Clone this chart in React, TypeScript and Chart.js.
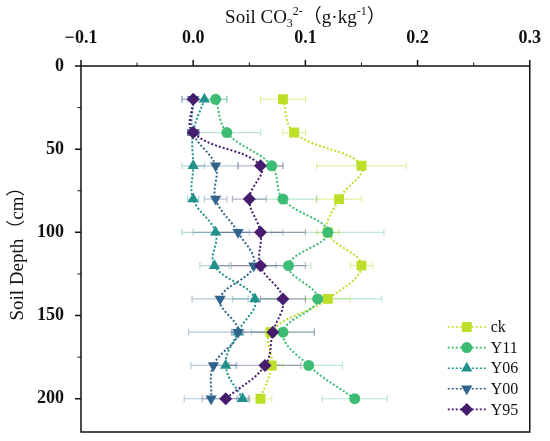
import { useEffect, useRef } from "react";
import { Chart, registerables } from "chart.js";
import { drawPoint } from "chart.js/helpers";

Chart.register(...registerables);

// soil depth of each sample (cm)
const depths = [20, 40, 60, 80, 100, 120, 140, 160, 180, 200];

// CO3 2- content (g/kg) and half-width of the error bars
const ckValues = [0.08, 0.09, 0.15, 0.13, 0.12, 0.15, 0.12, 0.069, 0.07, 0.06];
const ckErrors = [0.02, 0.01, 0.04, 0.02, 0.01, 0.01, 0.02, 0.005, 0.01, 0.01];
const y11Values = [0.02, 0.03, 0.07, 0.08, 0.12, 0.085, 0.111, 0.08, 0.103, 0.144];
const y11Errors = [0.01, 0.03, 0.01, 0.03, 0.05, 0.02, 0.057, 0.028, 0.03, 0.029];
const y06Values = [0.01, 0.0, 0.0, 0.0, 0.02, 0.019, 0.055, 0.04, 0.029, 0.044];
const y06Errors = [0.02, 0.005, 0.01, 0.005, 0.03, 0.013, 0.02, 0.005, 0.01, 0.005];
const y00Values = [0.0, 0.0, 0.02, 0.02, 0.04, 0.054, 0.024, 0.04, 0.018, 0.016];
const y00Errors = [0.005, 0.005, 0.02, 0.01, 0.04, 0.02, 0.025, 0.044, 0.02, 0.024];
const y95Values = [0.0, 0.0, 0.06, 0.05, 0.06, 0.06, 0.08, 0.071, 0.064, 0.029];
const y95Errors = [0.01, 0.005, 0.02, 0.015, 0.04, 0.04, 0.02, 0.037, 0.032, 0.021];

const seriesNames = ["ck", "Y11", "Y06", "Y00", "Y95"];
const seriesValues = [ckValues, y11Values, y06Values, y00Values, y95Values];
const seriesErrors = [ckErrors, y11Errors, y06Errors, y00Errors, y95Errors];
const seriesColors = ["#bcdf27", "#3dbc74", "#21918c", "#31648d", "#461c6f"];
const errorColors = [
  "rgba(188,223,39,0.45)",
  "rgba(61,188,116,0.35)",
  "rgba(33,145,140,0.35)",
  "rgba(49,100,141,0.35)",
  "rgba(70,28,111,0.35)",
];
const pointStyles = ["rect", "circle", "triangle", "triangle", "rectRot"];
const pointRotations = [0, 0, 0, 180, 0];
const pointSizes = [7, 5.5, 6.5, 6.5, 6.5];

const xTicks = [-0.1, 0, 0.1, 0.2, 0.3];
const xTickLabels = ["\u22120.1", "0.0", "0.1", "0.2", "0.3"];
const xMinorTicks = [-0.05, 0.05, 0.15, 0.25];
const yTicks = [0, 50, 100, 150, 200];
const yMinorTicks = [25, 75, 125, 175];

const SERIF = '"Liberation Serif", "Times New Roman", "Noto Sans CJK SC", serif';

const decorPlugin = {
  id: "decor",
  beforeDatasetsDraw(chart: any) {
    const { ctx, scales } = chart;
    const xs = scales.x;
    const ys = scales.y;
    ctx.save();
    ctx.lineWidth = 1.2;
    chart.data.datasets.forEach((ds: any) => {
      ctx.strokeStyle = ds.errorColor;
      ds.data.forEach((p: any, j: number) => {
        const e = ds.errors[j];
        const x0 = xs.getPixelForValue(p.x - e);
        const x1 = xs.getPixelForValue(p.x + e);
        const py = ys.getPixelForValue(p.y);
        ctx.beginPath();
        ctx.moveTo(x0, py);
        ctx.lineTo(x1, py);
        ctx.moveTo(x0, py - 3.5);
        ctx.lineTo(x0, py + 3.5);
        ctx.moveTo(x1, py - 3.5);
        ctx.lineTo(x1, py + 3.5);
        ctx.stroke();
      });
    });
    ctx.restore();
  },
  afterDraw(chart: any) {
    const { ctx, chartArea, scales } = chart;
    const { left, right, top, bottom } = chartArea;
    const xs = scales.x;
    const ys = scales.y;
    ctx.save();

    // frame
    ctx.strokeStyle = "#111";
    ctx.lineWidth = 1.5;
    ctx.strokeRect(left, top, right - left, bottom - top);

    // tick marks
    ctx.beginPath();
    xTicks.forEach((v) => {
      const px = xs.getPixelForValue(v);
      ctx.moveTo(px, top);
      ctx.lineTo(px, top - 6);
    });
    yTicks.forEach((v) => {
      const py = ys.getPixelForValue(v);
      ctx.moveTo(left, py);
      ctx.lineTo(left - 6, py);
    });
    ctx.stroke();
    ctx.lineWidth = 1;
    ctx.beginPath();
    xMinorTicks.forEach((v) => {
      const px = xs.getPixelForValue(v);
      ctx.moveTo(px, top);
      ctx.lineTo(px, top - 3.5);
    });
    yMinorTicks.forEach((v) => {
      const py = ys.getPixelForValue(v);
      ctx.moveTo(left, py);
      ctx.lineTo(left - 3.5, py);
    });
    ctx.stroke();

    // x title with sub/superscripts
    ctx.fillStyle = "#111";
    ctx.textBaseline = "alphabetic";
    ctx.textAlign = "left";
    const parts = [
      { t: "Soil CO", s: 19, dy: 0 },
      { t: "3", s: 12, dy: 4 },
      { t: "2-", s: 12, dy: -8 },
      { t: "\uff08g\u00b7kg", s: 19, dy: 0 },
      { t: "-1", s: 12, dy: -8 },
      { t: "\uff09", s: 19, dy: 0 },
    ];
    let total = 0;
    parts.forEach((p) => {
      ctx.font = `${p.s}px ${SERIF}`;
      total += ctx.measureText(p.t).width;
    });
    let cx = (left + right) / 2 - total / 2;
    const baseY = 23;
    parts.forEach((p) => {
      ctx.font = `${p.s}px ${SERIF}`;
      ctx.fillText(p.t, cx, baseY + p.dy);
      cx += ctx.measureText(p.t).width;
    });

    // y title
    ctx.save();
    ctx.translate(18, (top + bottom) / 2);
    ctx.rotate(-Math.PI / 2);
    ctx.textAlign = "center";
    ctx.textBaseline = "middle";
    ctx.font = `19px ${SERIF}`;
    ctx.fillText("Soil Depth\uff08cm\uff09", 0, 0);
    ctx.restore();

    // legend
    const lx = right - 82;
    const ly = bottom - 105;
    chart.data.datasets.forEach((ds: any, i: number) => {
      const y = ly + i * 20.6;
      ctx.strokeStyle = ds.borderColor;
      ctx.lineWidth = 1.6;
      ctx.setLineDash([2, 2]);
      ctx.beginPath();
      ctx.moveTo(lx, y);
      ctx.lineTo(lx + 39, y);
      ctx.stroke();
      ctx.setLineDash([]);
      ctx.fillStyle = ds.backgroundColor;
      drawPoint(
        ctx,
        { pointStyle: ds.pointStyle, radius: ds.pointRadius, rotation: ds.pointRotation, borderWidth: 0 },
        lx + 19,
        y
      );
      ctx.fillStyle = "#111";
      ctx.font = `16px ${SERIF}`;
      ctx.textAlign = "left";
      ctx.textBaseline = "middle";
      ctx.fillText(ds.label, lx + 43, y + 1);
    });

    ctx.restore();
  },
};

export default function App() {
  const canvasRef = useRef<HTMLCanvasElement>(null);
  const chartRef = useRef<Chart | null>(null);

  useEffect(() => {
    if (!canvasRef.current) return;
    if (chartRef.current) chartRef.current.destroy();

    const datasets = seriesNames.map((name, i) => ({
      label: name,
      data: depths.map((d, j) => ({ x: seriesValues[i][j], y: d })),
      errors: seriesErrors[i],
      errorColor: errorColors[i],
      showLine: true,
      borderColor: seriesColors[i],
      backgroundColor: seriesColors[i],
      borderWidth: 2,
      borderDash: [2, 2],
      tension: 0.4,
      pointStyle: pointStyles[i],
      pointRotation: pointRotations[i],
      pointRadius: pointSizes[i],
      pointBorderWidth: 0,
      order: seriesNames.length - i,
    }));

    chartRef.current = new Chart(canvasRef.current, {
      type: "scatter",
      data: { datasets } as any,
      options: {
        animation: false,
        responsive: true,
        maintainAspectRatio: false,
        layout: { padding: { top: 0, right: 14, bottom: 9, left: 0 } },
        plugins: {
          legend: { display: false },
          tooltip: { enabled: false },
        },
        scales: {
          x: {
            type: "linear",
            position: "top",
            min: -0.1,
            max: 0.3,
            afterBuildTicks: (s: any) => {
              s.ticks = xTicks.map((v) => ({ value: v }));
            },
            afterFit: (s: any) => {
              s.height = 66;
            },
            grid: { display: false },
            border: { display: false },
            ticks: {
              autoSkip: false,
              maxRotation: 0,
              padding: 9,
              color: "#111",
              font: { family: SERIF, size: 18, weight: "bold" },
              callback: (v: any) => {
                const k = xTicks.findIndex((t) => Math.abs(t - v) < 1e-6);
                return k >= 0 ? xTickLabels[k] : "";
              },
            },
          },
          y: {
            type: "linear",
            reverse: true,
            min: 0,
            max: 220,
            afterBuildTicks: (s: any) => {
              s.ticks = yTicks.map((v) => ({ value: v }));
            },
            afterFit: (s: any) => {
              s.width = 81;
              s.paddingTop = 0;
              s.paddingBottom = 0;
            },
            grid: { display: false },
            border: { display: false },
            ticks: {
              autoSkip: false,
              padding: 9,
              color: "#111",
              font: { family: SERIF, size: 18, weight: "bold" },
              callback: (v: any) => String(v),
            },
          },
        },
      } as any,
      plugins: [decorPlugin],
    });

    return () => {
      if (chartRef.current) {
        chartRef.current.destroy();
        chartRef.current = null;
      }
    };
  }, []);

  return (
    <div style={{ position: "absolute", left: 0, top: 0, width: 550, height: 441, background: "#fff" }}>
      <canvas ref={canvasRef}></canvas>
    </div>
  );
}
